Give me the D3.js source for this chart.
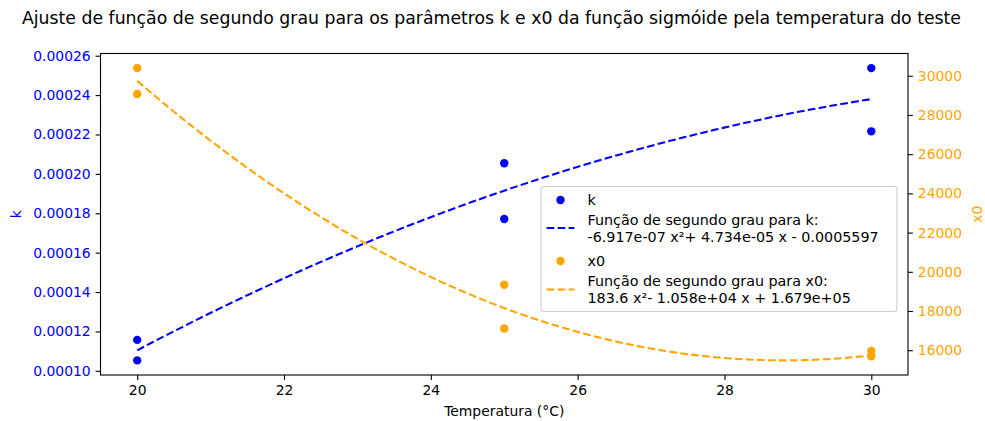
<!DOCTYPE html>
<html>
<head>
<meta charset="utf-8">
<script src="https://cdn.jsdelivr.net/npm/d3@7"></script>
<style>
  html, body { margin: 0; padding: 0; background: #fff; }
  svg { display: block; font-family: "DejaVu Sans", sans-serif; }
</style>
</head>
<body>
<svg id="chart" width="985" height="421"></svg>
<script>
// Measured test temperatures and fitted sigmoid parameters
const temps = [20, 20, 25, 25, 30, 30];
const kValues = [0.0001157, 0.0001053, 0.0002054, 0.0001771, 0.0002537, 0.0002216];
const x0Values = [30390, 29070, 19340, 17110, 15960, 15690];

// Second-degree polynomial coefficients [a, b, c] for a*x^2 + b*x + c
const kCoef = [-6.917e-07, 4.734e-05, -0.0005597];
const x0Coef = [183.6, -1.058e+04, 1.679e+05];

// Tick values
const xTicks = [20, 22, 24, 26, 28, 30];
const kTicks = [0.00010, 0.00012, 0.00014, 0.00016, 0.00018, 0.00020, 0.00022, 0.00024, 0.00026];
const x0Ticks = [16000, 18000, 20000, 22000, 24000, 26000, 28000, 30000];

const titleText = "Ajuste de função de segundo grau para os parâmetros k e x0 da função sigmóide pela temperatura do teste";

const BLUE = "#0000ff", ORANGE = "#ffa500";
const FS = 13.9;
const LFS = 14.3;

const svg = d3.select("#chart");
const plot = { left: 100.5, right: 908, top: 53.5, bottom: 375 };

// %.4g style formatting
function g4(v) {
  if (v === 0) return "0";
  const e = Math.floor(Math.log10(Math.abs(v)));
  if (e < -4 || e >= 4) {
    let [m, ex] = v.toExponential(3).split("e");
    const n = parseInt(ex, 10);
    const es = (n < 0 ? "-" : "+") + String(Math.abs(n)).padStart(2, "0");
    return m + "e" + es;
  }
  return String(parseFloat(v.toPrecision(4)));
}
function polyLabel(c) {
  const s = v => (v < 0 ? "- " : "+ ");
  return `${g4(c[0])} x²${s(c[1])}${g4(Math.abs(c[1]))} x ${s(c[2])}${g4(Math.abs(c[2]))}`;
}
const poly = (c, x) => c[0] * x * x + c[1] * x + c[2];

// Fitted curves sampled over the temperature range
const xs = d3.range(100).map(i => 20 + i * 10 / 99);
const kCurve = xs.map(x => [x, poly(kCoef, x)]);
const x0Curve = xs.map(x => [x, poly(x0Coef, x)]);

function padded(vals) {
  const [lo, hi] = d3.extent(vals);
  const m = (hi - lo) * 0.05;
  return [lo - m, hi + m];
}

const x = d3.scaleLinear().domain(padded(temps)).range([plot.left, plot.right]);
const yK = d3.scaleLinear().domain(padded(kValues.concat(kCurve.map(d => d[1])))).range([plot.bottom, plot.top]);
const yX0 = d3.scaleLinear().domain(padded(x0Values.concat(x0Curve.map(d => d[1])))).range([plot.bottom, plot.top]);

// Title
svg.append("text")
  .attr("x", 491.5).attr("y", 24)
  .attr("text-anchor", "middle")
  .attr("font-size", 17.3)
  .attr("fill", "#000")
  .text(titleText);

// Axes
const tickStyle = (g, color) => {
  g.select(".domain").remove();
  g.selectAll(".tick line").attr("stroke", "#000").attr("stroke-width", 1.1);
  g.selectAll(".tick text").attr("fill", color).attr("font-size", FS).attr("font-family", "DejaVu Sans");
};

svg.append("g")
  .attr("transform", `translate(0,${plot.bottom})`)
  .call(d3.axisBottom(x).tickValues(xTicks).tickSize(4.9).tickPadding(4.9).tickFormat(d3.format("d")))
  .call(g => tickStyle(g, "#000"));

svg.append("g")
  .attr("transform", `translate(${plot.left},0)`)
  .call(d3.axisLeft(yK).tickValues(kTicks).tickSize(4.9).tickPadding(4.9).tickFormat(d3.format(".5f")))
  .call(g => tickStyle(g, BLUE));

svg.append("g")
  .attr("transform", `translate(${plot.right},0)`)
  .call(d3.axisRight(yX0).tickValues(x0Ticks).tickSize(4.9).tickPadding(4.9).tickFormat(d3.format("d")))
  .call(g => tickStyle(g, ORANGE));

// Axis labels
svg.append("text")
  .attr("x", (plot.left + plot.right) / 2).attr("y", 416)
  .attr("text-anchor", "middle").attr("font-size", FS).attr("fill", "#000")
  .text("Temperatura (°C)");

svg.append("text")
  .attr("transform", `translate(16,${(plot.top + plot.bottom) / 2}) rotate(-90)`)
  .attr("text-anchor", "middle").attr("dominant-baseline", "central")
  .attr("font-size", FS).attr("fill", BLUE)
  .text("k");

svg.append("text")
  .attr("transform", `translate(977,${(plot.top + plot.bottom) / 2}) rotate(-90)`)
  .attr("text-anchor", "middle").attr("dominant-baseline", "central")
  .attr("font-size", FS).attr("fill", ORANGE)
  .text("x0");

// Curves
const line = (yScale) => d3.line().x(d => x(d[0])).y(d => yScale(d[1]));

svg.append("defs").append("clipPath").attr("id", "plotclip")
  .append("rect").attr("x", plot.left).attr("y", plot.top)
  .attr("width", plot.right - plot.left).attr("height", plot.bottom - plot.top);

const body = svg.append("g").attr("clip-path", "url(#plotclip)");

// k series
body.selectAll("circle.k").data(temps.map((t, i) => [t, kValues[i]])).join("circle")
  .attr("class", "k")
  .attr("cx", d => x(d[0])).attr("cy", d => yK(d[1])).attr("r", 4.2)
  .attr("fill", BLUE);
body.append("path").datum(kCurve)
  .attr("d", line(yK)).attr("fill", "none")
  .attr("stroke", BLUE).attr("stroke-width", 2.08)
  .attr("stroke-dasharray", "7.7,3.3");

// x0 series
body.selectAll("circle.x0").data(temps.map((t, i) => [t, x0Values[i]])).join("circle")
  .attr("class", "x0")
  .attr("cx", d => x(d[0])).attr("cy", d => yX0(d[1])).attr("r", 4.2)
  .attr("fill", ORANGE);
body.append("path").datum(x0Curve)
  .attr("d", line(yX0)).attr("fill", "none")
  .attr("stroke", ORANGE).attr("stroke-width", 2.08)
  .attr("stroke-dasharray", "7.7,3.3");

// Frame
svg.append("rect")
  .attr("x", plot.left).attr("y", plot.top)
  .attr("width", plot.right - plot.left).attr("height", plot.bottom - plot.top)
  .attr("fill", "none").attr("stroke", "#000").attr("stroke-width", 1.1);

// Legend
const lg = svg.append("g").attr("transform", "translate(541,186.5)");
lg.append("rect")
  .attr("x", 0).attr("y", 0).attr("width", 356).attr("height", 125)
  .attr("rx", 3).attr("ry", 3)
  .attr("fill", "#fff").attr("fill-opacity", 0.8)
  .attr("stroke", "#cccccc").attr("stroke-width", 1.1);

const legendItems = [
  { type: "point", color: BLUE, lines: ["k"], cy: 13.5 },
  { type: "line", color: BLUE, lines: ["Função de segundo grau para k:", polyLabel(kCoef)], cy: 41.5 },
  { type: "point", color: ORANGE, lines: ["x0"], cy: 74.5 },
  { type: "line", color: ORANGE, lines: ["Função de segundo grau para x0:", polyLabel(x0Coef)], cy: 103 }
];
const hx0 = 5.6, hx1 = 33.4, tx = 46.5, lineGap = 17;

legendItems.forEach(it => {
  if (it.type === "point") {
    lg.append("circle").attr("cx", (hx0 + hx1) / 2).attr("cy", it.cy).attr("r", 4.2).attr("fill", it.color);
  } else {
    lg.append("line").attr("x1", hx0).attr("x2", hx1).attr("y1", it.cy).attr("y2", it.cy)
      .attr("stroke", it.color).attr("stroke-width", 2.08).attr("stroke-dasharray", "7.7,3.3");
  }
  const n = it.lines.length;
  it.lines.forEach((t, j) => {
    lg.append("text")
      .attr("x", tx)
      .attr("y", it.cy + (j - (n - 1) / 2) * lineGap)
      .attr("dominant-baseline", "central")
      .attr("font-size", LFS).attr("fill", "#000")
      .text(t);
  });
});
</script>
</body>
</html>
